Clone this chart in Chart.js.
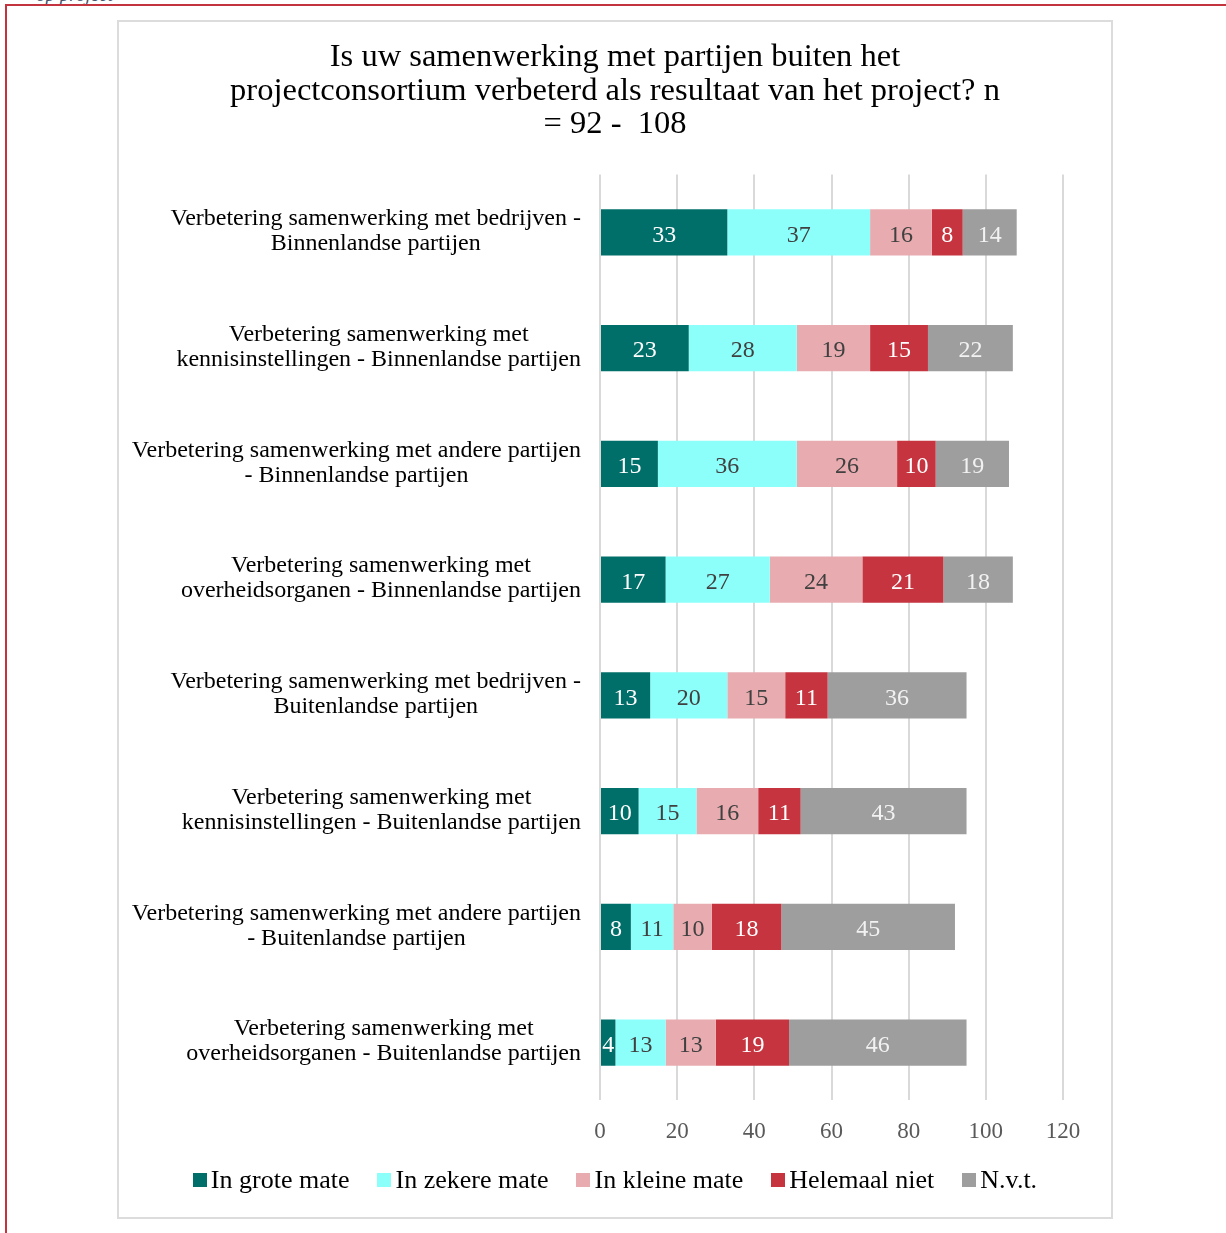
<!DOCTYPE html>
<html>
<head>
<meta charset="utf-8">
<script src="https://cdn.jsdelivr.net/npm/chart.js@4.4.1/dist/chart.umd.min.js"></script>
<style>
  html, body { margin: 0; padding: 0; background: #fff; }
  body { width: 1226px; height: 1233px; position: relative; overflow: hidden; }
  .redTop { position: absolute; left: 5px; top: 4px; width: 1221px; height: 2px; background: #c4343f; }
  .redLeft { position: absolute; left: 5px; top: 4px; width: 2px; height: 1229px; background: #c4343f; }
  .cut { position: absolute; left: 36px; top: -16px; font: italic 19px "Liberation Serif", serif; color: #44546a; }
  .box { position: absolute; left: 117px; top: 20px; width: 992px; height: 1195px; border: 2px solid #dcdcdc; background: #fff; }
  .box canvas { display: block; }
  #legend { position: absolute; left: 117px; width: 996px; top: 1163px; height: 34px; display: flex; justify-content: center; align-items: center;
            font: 26px "Liberation Serif", "DejaVu Serif", serif; color: #000; }
  #legend .item { display: flex; align-items: center; margin: 0 14px; white-space: nowrap; }
  #legend .sw { width: 14px; height: 14px; margin-right: 4px; }
</style>
</head>
<body>
<div class="cut">op project</div>
<div class="redTop"></div>
<div class="redLeft"></div>
<div class="box"><canvas id="chart" width="992" height="1195"></canvas></div>
<div id="legend"></div>
<script>
// data
const titleLines = ['Is uw samenwerking met partijen buiten het', 'projectconsortium verbeterd als resultaat van het project? n', '= 92 -  108'];
const categories = [
    ['Verbetering samenwerking met bedrijven -', 'Binnenlandse partijen'],
    ['Verbetering samenwerking met', 'kennisinstellingen - Binnenlandse partijen'],
    ['Verbetering samenwerking met andere partijen', '- Binnenlandse partijen'],
    ['Verbetering samenwerking met', 'overheidsorganen - Binnenlandse partijen'],
    ['Verbetering samenwerking met bedrijven -', 'Buitenlandse partijen'],
    ['Verbetering samenwerking met', 'kennisinstellingen - Buitenlandse partijen'],
    ['Verbetering samenwerking met andere partijen', '- Buitenlandse partijen'],
    ['Verbetering samenwerking met', 'overheidsorganen - Buitenlandse partijen']
];
const seriesNames = ['In grote mate', 'In zekere mate', 'In kleine mate', 'Helemaal niet', 'N.v.t.'];
const grote   = [33, 23, 15, 17, 13, 10, 8, 4];
const zekere  = [37, 28, 36, 27, 20, 15, 11, 13];
const kleine  = [16, 19, 26, 24, 15, 16, 10, 13];
const helemaal = [8, 15, 10, 21, 11, 11, 18, 19];
const nvt     = [14, 22, 19, 18, 36, 43, 45, 46];
const xTicks = [0, 20, 40, 60, 80, 100, 120];

const colors = ['#006f69', '#8dfffb', '#e8acb0', '#c5343f', '#9e9e9e'];
const labelColors = ['#ffffff', '#404040', '#404040', '#ffffff', '#f2f2f2'];
const FONT = '"Liberation Serif", "DejaVu Serif", serif';

const seriesData = [grote, zekere, kleine, helemaal, nvt];

// value labels in the middle of every segment
const valueLabels = {
    id: 'valueLabels',
    afterDatasetsDraw(chart) {
        const ctx = chart.ctx;
        ctx.save();
        ctx.font = '24px ' + FONT;
        ctx.textAlign = 'center';
        ctx.textBaseline = 'middle';
        chart.data.datasets.forEach((ds, di) => {
            chart.getDatasetMeta(di).data.forEach((bar, i) => {
                ctx.fillStyle = labelColors[di];
                ctx.fillText(String(ds.data[i]), (bar.x + bar.base) / 2, bar.y + 3);
            });
        });
        ctx.restore();
    }
};

// category labels, each block centred on itself and right-aligned to the axis
const catLabels = {
    id: 'catLabels',
    afterDraw(chart) {
        const ctx = chart.ctx;
        const y = chart.scales.y;
        ctx.save();
        ctx.font = '24px ' + FONT;
        ctx.fillStyle = '#000';
        ctx.textAlign = 'center';
        ctx.textBaseline = 'middle';
        categories.forEach((lines, i) => {
            const w = Math.max(...lines.map(l => ctx.measureText(l).width));
            const cx = y.right - 19 - w / 2;
            const cy = y.getPixelForValue(i);
            const lh = 25;
            lines.forEach((l, k) => {
                ctx.fillText(l, cx, cy + (k - (lines.length - 1) / 2) * lh - 1);
            });
        });
        ctx.restore();
    }
};

new Chart(document.getElementById('chart'), {
    type: 'bar',
    data: {
        labels: categories.map(c => c.join(' ')),
        datasets: seriesNames.map((name, i) => ({
            label: name,
            data: seriesData[i],
            backgroundColor: colors[i],
            borderWidth: 0,
            barPercentage: 0.4,
            categoryPercentage: 1
        }))
    },
    options: {
        indexAxis: 'y',
        responsive: false,
        animation: false,
        layout: { padding: { top: 19, right: 48, bottom: 53, left: 48 } },
        scales: {
            x: {
                stacked: true,
                min: 0,
                max: 120,
                afterBuildTicks: s => { s.ticks = xTicks.map(v => ({ value: v })); },
                grid: { color: '#d9d9d9', lineWidth: 2, drawTicks: false },
                border: { display: false },
                ticks: { color: '#595959', padding: 18, font: { family: FONT, size: 23 } }
            },
            y: {
                stacked: true,
                grid: { display: false },
                border: { display: false },
                ticks: { display: false },
                afterFit: s => { s.width = 433; }
            }
        },
        plugins: {
            title: {
                display: true,
                text: titleLines,
                color: '#000',
                font: { family: FONT, size: 32.5, weight: 'normal', lineHeight: 1.03 },
                padding: { top: 0, bottom: 33 }
            },
            legend: { display: false },
            tooltip: { enabled: false }
        }
    },
    plugins: [valueLabels, catLabels]
});

// legend below the plot
const legend = document.getElementById('legend');
seriesNames.forEach((name, i) => {
    const item = document.createElement('div');
    item.className = 'item';
    item.innerHTML = `<span class="sw" style="background:${colors[i]}"></span><span>${name}</span>`;
    legend.appendChild(item);
});
</script>
</body>
</html>
